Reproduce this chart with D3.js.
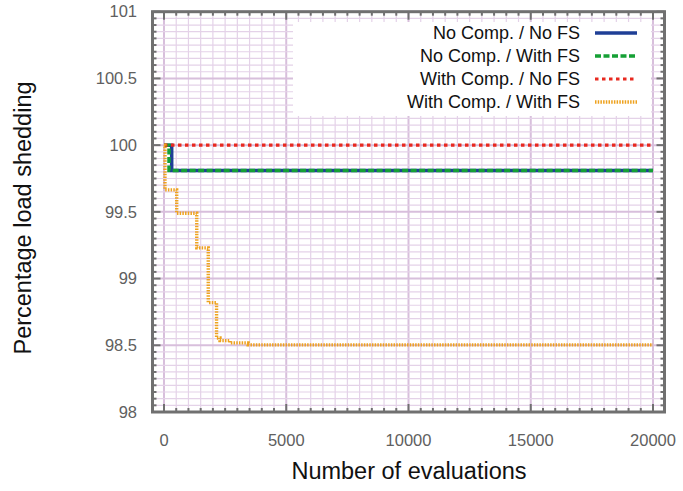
<!DOCTYPE html>
<html>
<head>
<meta charset="utf-8">
<script src="https://cdn.jsdelivr.net/npm/d3@7"></script>
<style>
body { margin: 0; background: #fff; }
text { font-family: "Liberation Sans", Arial, Helvetica, sans-serif; }
</style>
</head>
<body>
<svg width="683" height="491"></svg>
<script>
// step points: [evaluations, % load shedding]
var noCompNoFS     = [[0, 100], [315, 99.81], [20000, 99.81]];
var noCompWithFS   = [[0, 100], [205, 99.81], [20000, 99.81]];
var withCompNoFS   = [[0, 100], [20000, 100]];
var withCompWithFS = [[0, 100], [40, 99.665], [520, 99.49], [1340, 99.23], [1810, 98.82],
                      [2150, 98.555], [2290, 98.535], [2700, 98.518], [3440, 98.503], [20000, 98.503]];

var seriesNames = ["No Comp. / No FS", "No Comp. / With FS", "With Comp. / No FS", "With Comp. / With FS"];
var xTickValues = [0, 5000, 10000, 15000, 20000];
var yTickValues = [98, 98.5, 99, 99.5, 100, 100.5, 101];

var series = [
  { name: seriesNames[0], data: noCompNoFS,     color: "#1f3f96", width: 3.5, dash: null },
  { name: seriesNames[1], data: noCompWithFS,   color: "#15a035", width: 3.5, dash: "6,2.5" },
  { name: seriesNames[2], data: withCompNoFS,   color: "#e8291f", width: 3.2, dash: "3.5,3.5" },
  { name: seriesNames[3], data: withCompWithFS, color: "#eea21f", width: 3.4, dash: "1.5,1.2" }
];

var plotL = 152.5, plotR = 664.5, plotT = 11.7, plotB = 412;
var svg = d3.select("svg");

var x = d3.scaleLinear().domain([-470, 20470]).range([plotL, plotR]);
var y = d3.scaleLinear().domain([98, 101]).range([plotB, plotT]);

var minorX = d3.range(0, 20001, 500);
var minorY = d3.range(0, 61).map(function(i) { return 98 + i * 0.05; });

// grid
var grid = svg.append("g");
grid.selectAll(".gx").data(minorX).enter().append("line")
    .attr("x1", function(d) { return x(d); }).attr("x2", function(d) { return x(d); })
    .attr("y1", plotT).attr("y2", plotB)
    .style("stroke", function(d) { return d % 5000 === 0 ? "#d8bfdc" : "#e4d2e8"; })
    .style("stroke-width", function(d) { return d % 5000 === 0 ? 2 : 1.2; });
grid.selectAll(".gy").data(minorY).enter().append("line")
    .attr("x1", plotL).attr("x2", plotR)
    .attr("y1", function(d) { return y(d); }).attr("y2", function(d) { return y(d); })
    .style("stroke", function(d, i) { return i % 10 === 0 ? "#d8bfdc" : "#e4d2e8"; })
    .style("stroke-width", function(d, i) { return i % 10 === 0 ? 2 : 1.2; });

// series
var line = d3.line()
    .x(function(d) { return x(d[0]); })
    .y(function(d) { return y(d[1]); })
    .curve(d3.curveStepAfter);

svg.selectAll(".series").data(series).enter().append("path")
    .attr("d", function(d) { return line(d.data); })
    .style("fill", "none")
    .style("stroke", function(d) { return d.color; })
    .style("stroke-width", function(d) { return d.width; })
    .style("stroke-dasharray", function(d) { return d.dash; });

// legend
svg.append("rect").attr("x", 293).attr("y", 22).attr("width", 358).attr("height", 94).style("fill", "#fff");
var legend = svg.selectAll(".legend").data(series).enter().append("g")
    .attr("transform", function(d, i) { return "translate(0," + (33 + i * 23) + ")"; });
legend.append("text")
    .attr("x", 580).attr("dy", "0.35em")
    .attr("text-anchor", "end")
    .style("font-size", "18px")
    .style("fill", "#111")
    .text(function(d) { return d.name; });
legend.append("line")
    .attr("x1", 595).attr("x2", 637)
    .style("stroke", function(d) { return d.color; })
    .style("stroke-width", function(d) { return d.width; })
    .style("stroke-dasharray", function(d) { return d.dash; });

// frame and ticks on all four sides
var frameColor = "#707070";
var ticks = svg.append("g").style("stroke", frameColor);
minorX.forEach(function(d) {
  var len = d % 5000 === 0 ? 8 : 4;
  ticks.append("line").attr("x1", x(d)).attr("x2", x(d)).attr("y1", plotB).attr("y2", plotB - len).style("stroke-width", 2);
  ticks.append("line").attr("x1", x(d)).attr("x2", x(d)).attr("y1", plotT).attr("y2", plotT + len).style("stroke-width", 2);
});
minorY.forEach(function(d, i) {
  var len = i % 10 === 0 ? 8 : 4;
  ticks.append("line").attr("x1", plotL).attr("x2", plotL + len).attr("y1", y(d)).attr("y2", y(d)).style("stroke-width", 2);
  ticks.append("line").attr("x1", plotR).attr("x2", plotR - len).attr("y1", y(d)).attr("y2", y(d)).style("stroke-width", 2);
});
svg.append("rect")
    .attr("x", plotL).attr("y", plotT).attr("width", plotR - plotL).attr("height", plotB - plotT)
    .style("fill", "none").style("stroke", frameColor).style("stroke-width", 3);

// tick labels
svg.selectAll(".xl").data(xTickValues).enter().append("text")
    .attr("x", function(d) { return x(d); }).attr("y", 446)
    .attr("text-anchor", "middle")
    .style("font-size", "16.5px").style("fill", "#606060")
    .text(function(d) { return d; });
svg.selectAll(".yl").data(yTickValues).enter().append("text")
    .attr("x", 137).attr("y", function(d) { return y(d); }).attr("dy", "0.35em")
    .attr("text-anchor", "end")
    .style("font-size", "16.5px").style("fill", "#606060")
    .text(function(d) { return d; });

// axis titles
svg.append("text")
    .attr("x", 409).attr("y", 479)
    .attr("text-anchor", "middle")
    .style("font-size", "23.5px").style("fill", "#111")
    .text("Number of evaluations");
svg.append("text")
    .attr("transform", "translate(31," + 218 + ") rotate(-90)")
    .attr("text-anchor", "middle")
    .style("font-size", "23.5px").style("fill", "#111")
    .text("Percentage load shedding");
</script>
</body>
</html>
